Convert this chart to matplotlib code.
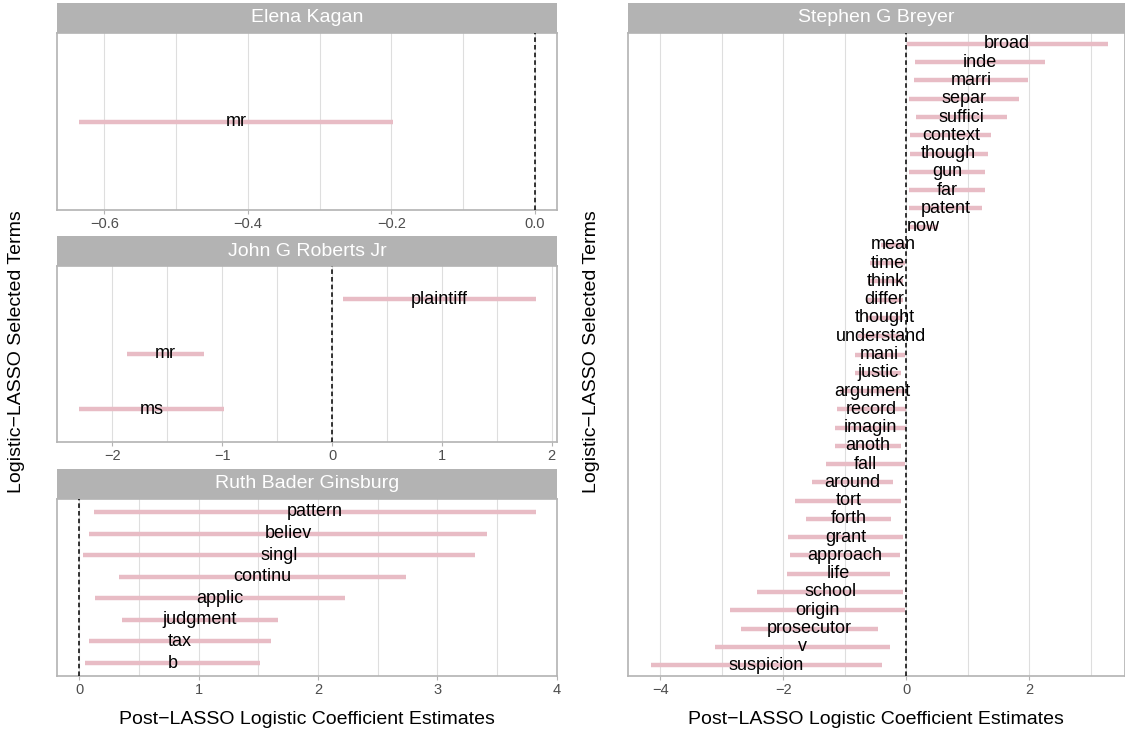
import matplotlib.pyplot as plt
import numpy as np

plt.rcParams['font.family'] = ['Liberation Sans', 'DejaVu Sans']

# interval ends per justice, listed top to bottom
kagan_terms = ['mr']
kagan_lo = [-0.635]
kagan_hi = [-0.197]

roberts_terms = ['plaintiff', 'mr', 'ms']
roberts_lo = [0.097, -1.866, -2.300]
roberts_hi = [1.858, -1.168, -0.985]

ginsburg_terms = ['pattern', 'believ', 'singl', 'continu', 'applic',
                  'judgment', 'tax', 'b']
ginsburg_lo = [0.126, 0.084, 0.034, 0.333, 0.132, 0.355, 0.084, 0.050]
ginsburg_hi = [3.826, 3.420, 3.314, 2.738, 2.227, 1.663, 1.607, 1.517]

breyer_terms = ['broad', 'inde', 'marri', 'separ', 'suffici', 'context',
                'though', 'gun', 'far', 'patent', 'now', 'mean', 'time',
                'think', 'differ', 'thought', 'understand', 'mani', 'justic',
                'argument', 'record', 'imagin', 'anoth', 'fall', 'around',
                'tort', 'forth', 'grant', 'approach', 'life', 'school',
                'origin', 'prosecutor', 'v', 'suspicion']
breyer_lo = [0.010, 0.146, 0.124, 0.043, 0.151, 0.065, 0.054, 0.037, 0.043,
             0.043, 0.020, -0.420, -0.600, -0.620, -0.660, -0.640, -0.780,
             -0.840, -0.840, -1.080, -1.128, -1.166, -1.166, -1.312, -1.528,
             -1.805, -1.626, -1.925, -1.892, -1.941, -2.429, -2.868, -2.689,
             -3.112, -4.158]
breyer_hi = [3.270, 2.249, 1.978, 1.826, 1.642, 1.382, 1.322, 1.284, 1.279,
             1.230, 0.520, -0.020, -0.020, -0.060, -0.060, -0.060, -0.040,
             -0.028, -0.082, -0.030, -0.011, -0.011, -0.093, -0.028, -0.217,
             -0.082, -0.255, -0.054, -0.098, -0.260, -0.049, -0.016, -0.455,
             -0.260, -0.390]

PINK = '#E8BCC5'
W, H = 1125, 740
fig = plt.figure(figsize=(W / 100, H / 100), dpi=100)


def box(x0, y0, x1, y1):
    return [x0 / W, 1 - y1 / H, (x1 - x0) / W, (y1 - y0) / H]


def panel(rect, title, terms, lo, hi, xlim, major, minor):
    ax = fig.add_axes(box(*rect))
    n = len(terms)
    y = np.arange(n)[::-1]
    lo = np.array(lo)
    hi = np.array(hi)
    ax.hlines(y, lo, hi, color=PINK, lw=3.2, zorder=2)
    for yi, m, t in zip(y, (lo + hi) / 2, terms):
        ax.text(m, yi, t, ha='center', va='center', fontsize=13, zorder=4)
    ax.axvline(0, color='black', ls=(0, (3, 2)), lw=1.1, zorder=3)
    ax.set_xlim(xlim)
    ax.set_ylim(-0.6, n - 1 + 0.6)
    ax.set_xticks(major)
    ax.set_xticks(minor, minor=True)
    ax.grid(which='both', axis='x', color='#DEDEDE', lw=0.8)
    ax.set_axisbelow(True)
    ax.set_yticks([])
    for s in ax.spines.values():
        s.set_color('#B3B3B3')
        s.set_linewidth(1.2)
    ax.tick_params(axis='x', which='major', colors='#B3B3B3',
                   labelcolor='#4D4D4D', labelsize=10.5, length=3, width=0.8,
                   pad=2)
    ax.tick_params(axis='x', which='minor', length=0)

    # facet strip on top
    x0, y0, x1, y1 = rect
    st = fig.add_axes(box(x0, y0 - 30, x1, y0))
    st.set_facecolor('#B3B3B3')
    st.set_xticks([])
    st.set_yticks([])
    for s in st.spines.values():
        s.set_visible(False)
    st.text(0.5, 0.5, title, ha='center', va='center', color='white',
            fontsize=14, transform=st.transAxes)
    return ax


panel((57, 33, 557, 210), 'Elena Kagan', kagan_terms, kagan_lo, kagan_hi,
      (-0.666, 0.031), [-0.6, -0.4, -0.2, 0.0], [-0.5, -0.3, -0.1])
panel((57, 266, 557, 442), 'John G Roberts Jr', roberts_terms, roberts_lo,
      roberts_hi, (-2.504, 2.048), [-2, -1, 0, 1, 2],
      [-1.5, -0.5, 0.5, 1.5])
panel((57, 499, 557, 676), 'Ruth Bader Ginsburg', ginsburg_terms,
      ginsburg_lo, ginsburg_hi, (-0.187, 4.003), [0, 1, 2, 3, 4],
      [0.5, 1.5, 2.5, 3.5])
panel((628, 33, 1125, 676), 'Stephen G Breyer', breyer_terms, breyer_lo,
      breyer_hi, (-4.527, 3.554), [-4, -2, 0, 2], [-3, -1, 1, 3])

for x in (17, 592):
    fig.text(x / W, 1 - 352 / H, 'Logistic\u2212LASSO Selected Terms',
             rotation=90, ha='center', va='center', fontsize=14)
for x in (307, 876):
    fig.text(x / W, 1 - 720 / H,
             'Post\u2212LASSO Logistic Coefficient Estimates',
             ha='center', va='center', fontsize=14)

fig.savefig('out.png', dpi=100)
